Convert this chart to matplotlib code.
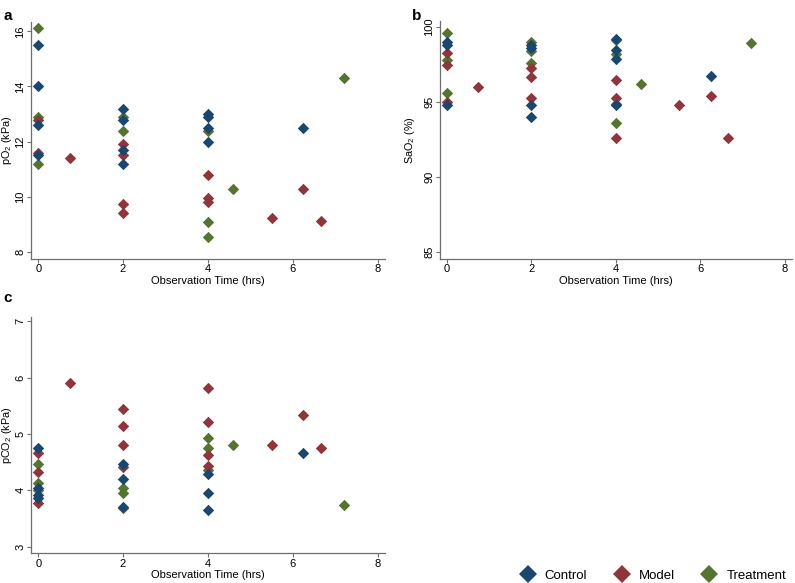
import matplotlib
matplotlib.use("Agg")
import matplotlib.pyplot as plt
from matplotlib.lines import Line2D

plt.rcParams['font.family'] = ['Liberation Sans', 'DejaVu Sans']
plt.rcParams['mathtext.fontset'] = 'custom'
plt.rcParams['mathtext.rm'] = 'Liberation Sans'

groups = ["Control", "Model", "Treatment"]
colors = {"Control": "#1a476f", "Model": "#90353b", "Treatment": "#55752f"}

# Panel a: pO2 (kPa)
ctrl_a_t = [0, 0, 0, 0, 2, 2, 2, 2, 4, 4, 4, 4, 6.25]
ctrl_a_v = [15.5, 14.0, 12.6, 11.5, 13.2, 12.8, 11.7, 11.2, 13.0, 12.9, 12.5, 12.0, 12.5]
model_a_t = [0, 0, 0.75, 2, 2, 2, 2, 4, 4, 4, 5.5, 6.25, 6.67]
model_a_v = [12.8, 11.6, 11.4, 11.9, 11.5, 9.75, 9.4, 10.8, 9.95, 9.8, 9.22, 10.3, 9.13]
treat_a_t = [0, 0, 0, 2, 2, 4, 4, 4, 4.6, 7.2]
treat_a_v = [16.1, 12.9, 11.2, 12.9, 12.4, 12.4, 9.1, 8.55, 10.3, 14.3]

# Panel b: SaO2 (%)
ctrl_b_t = [0, 0, 0, 2, 2, 2, 2, 4, 4, 4, 4, 6.25]
ctrl_b_v = [99.0, 98.8, 94.8, 98.8, 98.6, 94.8, 94.0, 99.2, 98.5, 97.9, 94.8, 96.75]
model_b_t = [0, 0, 0, 0.75, 2, 2, 2, 4, 4, 4, 4, 5.5, 6.25, 6.67]
model_b_v = [98.3, 97.5, 95.0, 96.0, 97.3, 96.7, 95.3, 96.5, 95.3, 94.9, 92.6, 94.8, 95.4, 92.6]
treat_b_t = [0, 0, 0, 2, 2, 2, 4, 4, 4, 4.6, 7.2]
treat_b_v = [99.6, 97.8, 95.6, 99.0, 98.4, 97.6, 99.1, 98.2, 93.6, 96.2, 98.9]

# Panel c: pCO2 (kPa)
ctrl_c_t = [0, 0, 0, 0, 2, 2, 2, 4, 4, 4, 6.25]
ctrl_c_v = [4.75, 4.05, 3.92, 3.87, 4.47, 4.2, 3.71, 4.3, 3.96, 3.65, 4.67]
model_c_t = [0, 0, 0, 0.75, 2, 2, 2, 2, 4, 4, 4, 4, 5.5, 6.25, 6.67]
model_c_v = [4.67, 4.32, 3.78, 5.9, 5.45, 5.15, 4.8, 4.42, 5.82, 5.21, 4.62, 4.43, 4.81, 5.33, 4.75]
treat_c_t = [0, 0, 0, 2, 2, 2, 4, 4, 4, 4.6, 7.2]
treat_c_v = [4.47, 4.13, 4.0, 4.04, 3.96, 3.68, 4.93, 4.75, 4.36, 4.81, 3.74]

x_ticks = [0, 2, 4, 6, 8]
xlabel = "Observation Time (hrs)"

fig = plt.figure(figsize=(7.95, 5.83), dpi=100)

def style(ax, yticks, ylim, ylabel, label_x):
    ax.set_xlim(-0.17, 8.17)
    ax.set_ylim(*ylim)
    ax.set_xticks(x_ticks)
    ax.set_yticks(yticks)
    for s in ["top", "right"]:
        ax.spines[s].set_visible(False)
    for s in ["left", "bottom"]:
        ax.spines[s].set_color("#6e6e6e")
        ax.spines[s].set_linewidth(0.9)
    ax.tick_params(axis="both", direction="out", length=3, width=0.8,
                   color="#6e6e6e", labelsize=8, pad=1)
    for lab in ax.get_yticklabels():
        lab.set_rotation(90)
        lab.set_va("center")
    ax.set_xlabel(xlabel, fontsize=8, labelpad=1)
    ax.set_ylabel(ylabel, fontsize=7.8)
    ax.yaxis.set_label_coords(label_x, 0.5)

def draw(ax, data):
    for g, (t, v) in zip(["Treatment", "Model", "Control"], data):
        ax.scatter(t, v, marker="D", s=34, color=colors[g], linewidths=0, zorder=3)

axa = fig.add_axes([0.039, 0.556, 0.445, 0.406])
draw(axa, [(treat_a_t, treat_a_v), (model_a_t, model_a_v), (ctrl_a_t, ctrl_a_v)])
style(axa, [8, 10, 12, 14, 16], (7.75, 16.33), "pO$_\\mathregular{2}$ (kPa)", -0.049)

axb = fig.add_axes([0.553, 0.556, 0.443, 0.408])
draw(axb, [(treat_b_t, treat_b_v), (model_b_t, model_b_v), (ctrl_b_t, ctrl_b_v)])
style(axb, [85, 90, 95, 100], (84.55, 100.4), "SaO$_\\mathregular{2}$ (%)", -0.063)

axc = fig.add_axes([0.039, 0.0515, 0.445, 0.405])
draw(axc, [(treat_c_t, treat_c_v), (model_c_t, model_c_v), (ctrl_c_t, ctrl_c_v)])
style(axc, [3, 4, 5, 6, 7], (2.89, 7.08), "pCO$_\\mathregular{2}$ (kPa)", -0.049)

fig.text(0.004, 0.985, "a", fontsize=11, fontweight="bold", va="top")
fig.text(0.518, 0.985, "b", fontsize=11, fontweight="bold", va="top")
fig.text(0.004, 0.5, "c", fontsize=11, fontweight="bold", va="top")

handles = [Line2D([], [], marker="D", linestyle="none", markersize=9,
                  markerfacecolor=colors[g], markeredgewidth=0) for g in groups]
fig.legend(handles, groups, loc="center", bbox_to_anchor=(0.822, 0.013), ncol=3,
           frameon=False, fontsize=9.5, handlelength=1.0, handletextpad=0.8,
           columnspacing=2.1, borderpad=0.1)

fig.savefig("out.png", dpi=100)
